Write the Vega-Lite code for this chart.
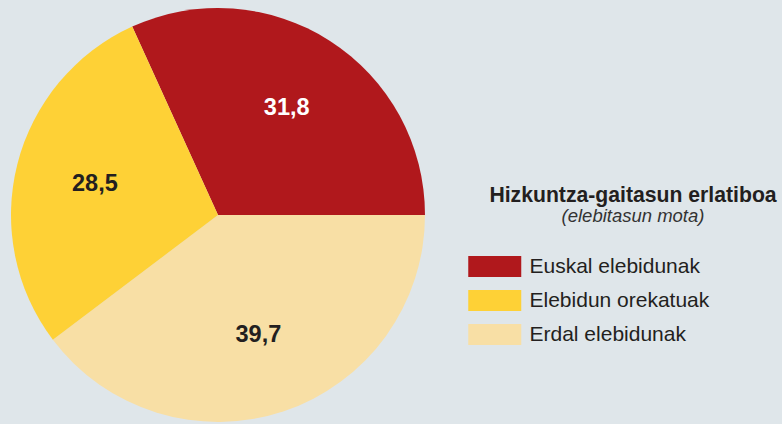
{
  "$schema": "https://vega.github.io/schema/vega-lite/v6.json",
  "width": 436,
  "height": 418,
  "autosize": "none",
  "padding": {"left": 0, "top": 6, "right": 346, "bottom": 0},
  "background": "#dfe6ea",
  "config": {"view": {"stroke": null}, "font": "Liberation Sans"},
  "title": {
    "text": "Hizkuntza-gaitasun erlatiboa",
    "subtitle": "(elebitasun mota)",
    "anchor": "start",
    "align": "center",
    "dx": 633,
    "dy": 223,
    "font": "Liberation Sans",
    "fontSize": 21.2,
    "fontWeight": "bold",
    "color": "#231f20",
    "subtitleFont": "Liberation Sans",
    "subtitleFontSize": 18.5,
    "subtitleFontStyle": "italic",
    "subtitleColor": "#333333",
    "subtitlePadding": 0
  },
  "data": {
    "values": [
      {"group": "Euskal elebidunak", "value": 31.8, "label": "31,8", "order": 1},
      {"group": "Erdal elebidunak", "value": 39.7, "label": "39,7", "order": 2},
      {"group": "Elebidun orekatuak", "value": 28.5, "label": "28,5", "order": 3}
    ]
  },
  "encoding": {
    "theta": {"field": "value", "type": "quantitative", "stack": true, "scale": {"range": [-0.42725, 5.85594]}},
    "order": {"field": "order", "type": "quantitative"}
  },
  "layer": [
    {
      "mark": {"type": "arc", "outerRadius": 207},
      "encoding": {
        "color": {
          "field": "group",
          "type": "nominal",
          "scale": {
            "domain": ["Euskal elebidunak", "Elebidun orekatuak", "Erdal elebidunak"],
            "range": ["#b0181c", "#fed136", "#f8dfa5"]
          },
          "legend": {
            "title": null,
            "orient": "none",
            "legendX": 468,
            "legendY": 247,
            "symbolType": "M-1,-0.8H3V0.8H-1Z",
            "symbolSize": 702.25,
            "symbolStrokeWidth": 0,
            "symbolOpacity": 1,
            "labelFont": "Liberation Sans",
            "labelFontSize": 21,
            "labelColor": "#231f20",
            "labelOffset": 34.5,
            "labelLimit": 300,
            "rowPadding": 9,
            "padding": 0
          }
        }
      }
    },
    {
      "mark": {"type": "text", "radius": 127, "fontSize": 23.5, "fontWeight": "bold", "font": "Liberation Sans"},
      "encoding": {
        "text": {"field": "label"},
        "color": {
          "condition": {"test": "datum.group === 'Euskal elebidunak'", "value": "#ffffff"},
          "value": "#231f20"
        }
      }
    }
  ]
}
